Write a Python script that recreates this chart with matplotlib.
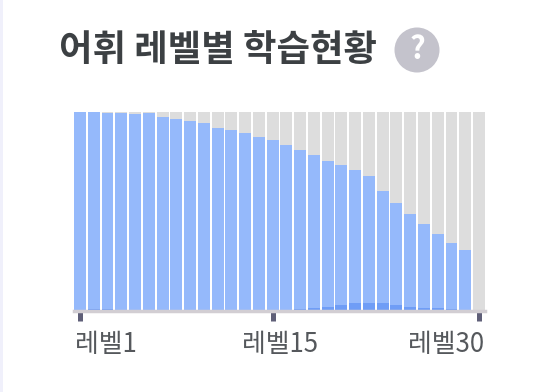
import matplotlib
matplotlib.use("Agg")
import matplotlib.pyplot as mp
from matplotlib.patches import Circle, Rectangle
from matplotlib.transforms import ScaledTranslation

levels = list(range(1, 31))
learned = [100, 100, 99.6, 99.5, 99.2, 99.6, 97.6, 96.5, 95.5, 94.4, 92, 90.9, 89.4, 87.4, 85.9,
           83.3, 80.8, 78.3, 75.3, 73.2, 70.7, 67.7, 60.1, 54.5, 48.9, 43.9, 38.8, 34.3, 30.3, 0]
mastered = [0, 0.6, 0.6, 0, 0, 0, 0, 0, 0, 0, 0, 0, 0, 0, 0,
            0, 0.6, 1.1, 1.6, 2.6, 4.0, 4.0, 4.0, 2.6, 2.0, 1.1, 1.1, 0.6, 0, 0]
tick_levels = [1, 15, 30]
tick_labels = ["레벨1", "레벨15", "레벨30"]
title = "어휘 레벨별 학습현황"

W, H = 535, 392


def main():
    mp.rcParams["font.family"] = ["Noto Sans CJK KR", "DejaVu Sans"]
    fig = mp.figure(figsize=(W / 100, H / 100), dpi=100)
    ax = fig.add_axes([74 / W, 1 - 310.5 / H, 411 / W, 198.5 / H])
    plot_data(ax)
    set_properties(ax, fig)
    draw_header(fig)
    fig.savefig("out.png", dpi=100)


def plot_data(ax):
    ax.bar(levels, [100] * len(levels), width=0.87, color="#dddddd")
    ax.bar(levels, learned, width=0.87, color="#95b9fb")
    ax.bar(levels, mastered, width=0.87, color="#6f9df6")


def set_properties(ax, fig):
    ax.set_xlim(0.565, 30.435)
    ax.set_ylim(0, 100.2)
    ax.set_yticks([])
    ax.set_xticks(tick_levels)
    ax.set_xticklabels(tick_labels, fontsize=18.6, color="#55585c")
    ax.tick_params(axis="x", length=7, width=3.6, color="#5f5f78", pad=7.5)
    labels = ax.get_xticklabels()
    labels[0].set_ha("left")
    labels[2].set_ha("right")
    # labels sit a little off the tick in the original
    for label, shift in zip(labels, [-5, 7, 5]):
        label.set_transform(label.get_transform() + ScaledTranslation(shift / 100, 0, fig.dpi_scale_trans))
    for side in ["top", "left", "right"]:
        ax.spines[side].set_visible(False)
    ax.spines["bottom"].set_color("#d2ced3")
    ax.spines["bottom"].set_linewidth(2.5)


def draw_header(fig):
    fig.text(59 / W, 1 - 51 / H, title, fontsize=26.2, fontweight="bold", color="#3c4043", va="center", ha="left")
    over = fig.add_axes([0, 0, 1, 1])
    over.set_xlim(0, W)
    over.set_ylim(H, 0)
    over.axis("off")
    over.add_patch(Rectangle((0, 0), 2.5, H, color="#f0f0fb", lw=0))
    over.add_patch(Circle((417, 50), 22.5, color="#c4c3cc", lw=0))
    over.text(417, 50, "?", fontsize=22, fontweight="bold", color="white", ha="center", va="center")


if __name__ == "__main__":
    main()
